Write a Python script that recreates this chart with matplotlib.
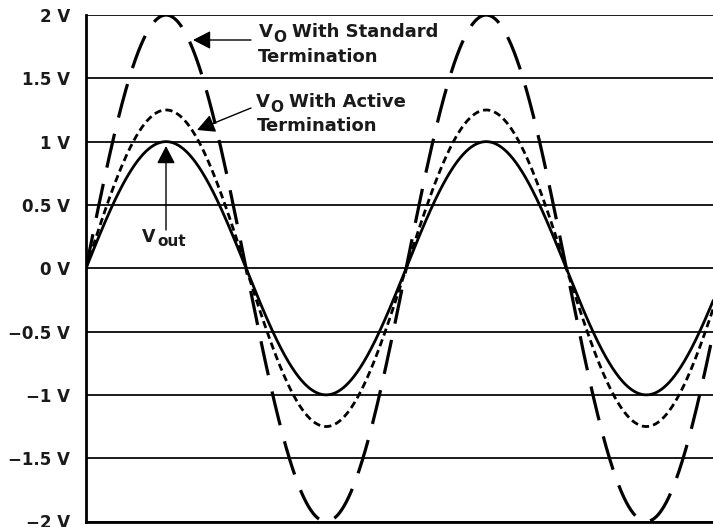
import numpy as np
import matplotlib.pyplot as plt

plt.rcParams['font.family'] = ['DejaVu Sans']
plt.rcParams['lines.scale_dashes'] = False

# waveform data (amplitude in volts, phase in degrees)
amp_out = 1.0
amp_active = 1.25
amp_standard = 2.0
phase_end = 705

y_ticks = [2, 1.5, 1, 0.5, 0, -0.5, -1, -1.5, -2]
y_labels = ['2 V', '1.5 V', '1 V', '0.5 V', '0 V', '\u22120.5 V', '\u22121 V', '\u22121.5 V', '\u22122 V']

deg = np.linspace(0, phase_end, 2000)
rad = np.deg2rad(deg)

W, H = 713, 527
fig = plt.figure(figsize=(W / 100, H / 100), dpi=100)
ax = fig.add_axes([86 / W, 1 - 521.5 / H, 1 - 86 / W, 506.5 / H])

for y in y_ticks:
    ax.axhline(y, color='#1a1a1a', lw=1.4, zorder=1)

ax.plot(deg, amp_out * np.sin(rad), color='black', lw=2.0, zorder=3)
ax.plot(deg, amp_active * np.sin(rad), color='black', lw=2.0,
        dashes=(5.2, 3), zorder=3)
ax.plot(deg, amp_standard * np.sin(rad), color='black', lw=2.3,
        dashes=(25, 12), dash_capstyle='butt', zorder=3)

ax.set_xlim(0, phase_end)
ax.set_ylim(-2, 2)
ax.set_yticks(y_ticks)
ax.set_yticklabels(y_labels, fontsize=12, fontweight='bold', color='#1a1a1a')
ax.set_xticks([])
ax.tick_params(axis='y', length=0, pad=11.5)
for s in ['top', 'right']:
    ax.spines[s].set_visible(False)
ax.spines['left'].set_linewidth(2)
ax.spines['bottom'].set_linewidth(2)


def px(x, y):
    # pixel coords (from top-left) to data coords
    xd = (x - 86) / 627 * phase_end
    yd = 2 - (y - 15) / 506.5 * 4
    return xd, yd


def label(x, y, s, size):
    fig.text(x / W, 1 - y / H, s, fontsize=size, fontweight='bold',
             color='#1a1a1a', ha='left', va='baseline')


arrow = dict(arrowstyle='-|>,head_length=1.08,head_width=0.56', color='black', lw=1.0,
             shrinkA=0, shrinkB=0)

# standard termination
ax.annotate('', xy=px(193, 40), xytext=px(251, 40), arrowprops=arrow)
label(259, 37, 'V', 13)
label(273, 42, 'O', 11)
label(292, 37, 'With Standard', 13)
label(258, 62, 'Termination', 13)

# active termination
ax.annotate('', xy=px(197, 130), xytext=px(251, 108), arrowprops=arrow)
label(256, 107, 'V', 13)
label(270, 112, 'O', 11)
label(289, 107, 'With Active', 13)
label(257, 131, 'Termination', 13)

# output
ax.annotate('', xy=px(166, 146), xytext=px(166, 230), arrowprops=arrow)
label(142, 242, 'V', 12.5)
label(157, 246, 'out', 11)

fig.savefig('out.png', dpi=100)
